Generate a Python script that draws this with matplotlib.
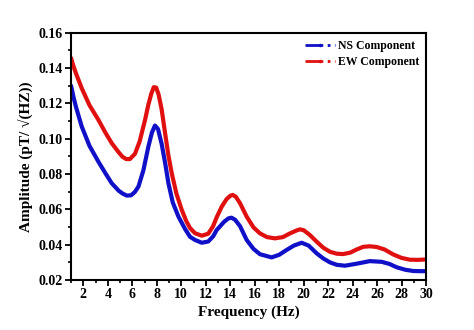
import matplotlib
matplotlib.use('Agg')
import matplotlib.pyplot as plt
from matplotlib.lines import Line2D
from matplotlib.ticker import MultipleLocator

plt.rcParams['font.family'] = ['Liberation Serif', 'DejaVu Serif']
plt.rcParams['font.weight'] = 'bold'

# values
freq_ew = [1.0, 1.2, 1.4, 1.87, 2.5, 3.23, 3.8, 4.32, 4.9, 5.2, 5.5, 5.8, 6.22, 6.6, 7.04, 7.3, 7.55,
           7.75, 7.95, 8.15, 8.4, 8.67, 8.95, 9.22, 9.6, 10.04, 10.4, 10.71, 11.12, 11.67, 12.2, 12.6,
           12.89, 13.3, 13.7, 14.0, 14.2, 14.45, 14.8, 15.34, 15.9, 16.43, 17.0, 17.65, 18.3, 18.88,
           19.4, 19.69, 20.0, 20.5, 21.06, 21.6, 22.14, 22.7, 23.23, 23.8, 24.3, 24.86, 25.4, 25.96,
           26.6, 27.31, 28.0, 28.67, 29.3, 29.9, 30.0]
amp_ew = [0.1457, 0.141, 0.137, 0.1286, 0.119, 0.1107, 0.1035, 0.0975, 0.0922, 0.0898, 0.0885, 0.0885,
          0.0915, 0.0985, 0.1107, 0.119, 0.1255, 0.1292, 0.129, 0.125, 0.1165, 0.1035, 0.0905, 0.0805,
          0.069, 0.0597, 0.0535, 0.0495, 0.0465, 0.0451, 0.0462, 0.0505, 0.0555, 0.0615, 0.0658,
          0.0677, 0.0682, 0.0672, 0.0635, 0.0559, 0.0498, 0.0464, 0.0443, 0.0436, 0.0443, 0.0464,
          0.048, 0.0487, 0.0482, 0.0455, 0.0417, 0.0383, 0.036, 0.0349, 0.0347, 0.0355, 0.0372,
          0.0388, 0.0391, 0.0387, 0.0373, 0.0345, 0.0325, 0.0315, 0.0314, 0.0316, 0.0317]

freq_ns = [1.0, 1.2, 1.4, 1.87, 2.5, 3.23, 3.8, 4.32, 4.9, 5.2, 5.55, 5.9, 6.2, 6.5, 6.9, 7.31, 7.6,
           7.85, 8.1, 8.4, 8.7, 8.95, 9.3, 9.77, 10.3, 10.71, 11.12, 11.67, 12.2, 12.6, 12.89, 13.5,
           13.85, 14.1, 14.4, 14.8, 15.34, 15.9, 16.43, 17.38, 18.0, 18.6, 19.2, 19.83, 20.4, 21.06,
           21.6, 22.14, 22.7, 23.37, 24.3, 25.4, 26.37, 27.0, 27.6, 28.3, 28.95, 29.5, 30.0]
amp_ns = [0.130, 0.1235, 0.118, 0.1069, 0.096, 0.087, 0.0805, 0.0748, 0.0705, 0.069, 0.0678, 0.068,
          0.0698, 0.0729, 0.082, 0.0955, 0.1035, 0.1075, 0.1055, 0.097, 0.0855, 0.0748, 0.064, 0.0559,
          0.049, 0.0445, 0.0427, 0.0411, 0.0418, 0.0447, 0.0483, 0.053, 0.0549, 0.0553, 0.0541, 0.0505,
          0.0427, 0.0376, 0.0346, 0.0328, 0.0343, 0.037, 0.0395, 0.0411, 0.0395, 0.0351, 0.0322, 0.030,
          0.0286, 0.0281, 0.0292, 0.0307, 0.0303, 0.0291, 0.0272, 0.0258, 0.0251, 0.0250, 0.0250]

fig = plt.figure(figsize=(4.74, 3.30), dpi=100)
ax = fig.add_axes([0.150, 0.1515, 0.749, 0.749])

ax.plot(freq_ns, amp_ns, color='#1010c8', lw=3.0, solid_joinstyle='round', solid_capstyle='round')
ax.plot(freq_ew, amp_ew, color='#e01010', lw=3.0, solid_joinstyle='round', solid_capstyle='round')

ax.set_xlim(1, 30)
ax.set_ylim(0.02, 0.16)
ax.xaxis.set_minor_locator(MultipleLocator(1))
ax.yaxis.set_minor_locator(MultipleLocator(0.01))
ax.set_xticks(range(2, 31, 2))
ax.set_yticks([0.02, 0.04, 0.06, 0.08, 0.10, 0.12, 0.14, 0.16])
ax.set_yticklabels(['0.02', '0.04', '0.06', '0.08', '0.10', '0.12', '0.14', '0.16'])
ax.tick_params(which='major', direction='out', length=4, width=1.3, labelsize=10, pad=2)
ax.tick_params(which='minor', direction='out', length=2.5, width=1.2)
for lab in ax.get_xticklabels() + ax.get_yticklabels():
    lab.set_fontweight('bold')
for sp in ax.spines.values():
    sp.set_linewidth(1.5)

ax.set_xlabel('Frequency (Hz)', fontsize=11, fontweight='bold', labelpad=3)
ax.set_ylabel('Amplitude (pT/ √(HZ))', fontsize=11, fontweight='bold', labelpad=4)

handles = [Line2D([], [], color='#1010c8', lw=2, ls='-.', marker='.', markersize=3),
           Line2D([], [], color='#e01010', lw=2, ls='-.', marker='.', markersize=3)]
ax.legend(handles, ['NS Component', 'EW Component'], loc='upper right', frameon=False,
          prop={'size': 8.5, 'weight': 'bold'}, handlelength=2.6, handletextpad=0.2,
          borderaxespad=0.2, labelspacing=0.35)

fig.savefig('out.png', dpi=100)
